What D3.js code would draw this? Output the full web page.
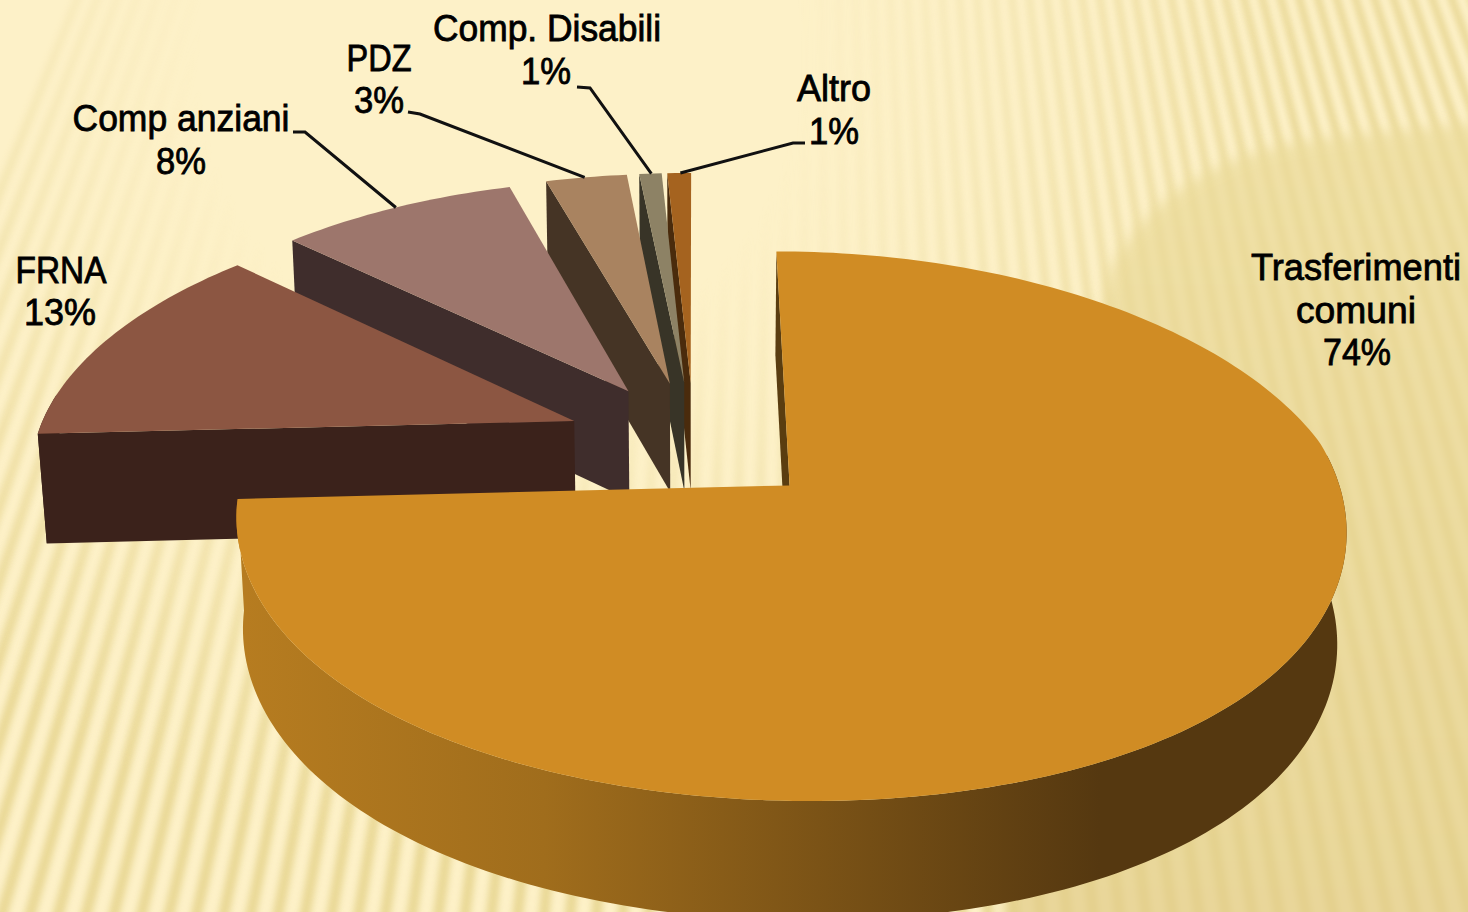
<!DOCTYPE html>
<html>
<head>
<meta charset="utf-8">
<script src="https://cdn.jsdelivr.net/npm/d3@7"></script>
<style>
html, body { margin: 0; padding: 0; background: #fdf1c8; overflow: hidden; }
svg { display: block; }
text { font-family: "Liberation Sans", Arial, sans-serif; font-size: 36px; fill: #000; stroke: #000; stroke-width: .8px; text-anchor: middle; }
</style>
</head>
<body>
<div id="chart"></div>
<script>
// values
const categories = ["Trasferimenti comuni", "FRNA", "Comp anziani", "PDZ", "Comp. Disabili", "Altro"];
const values = [74.2, 12.8, 8.45, 2.9, 0.8, 0.85];
const percentLabels = ["74%", "13%", "8%", "3%", "1%", "1%"];
const topColors = ["#d08c24", "#8c5642", "#9d766c", "#a98360", "#8d8265", "#a5631f"];
const wallColors = ["#5a3d10", "#3b221b", "#3f2d2c", "#453425", "#383427", "#4a2b0c"];

// label lines: [text, x, baseline, fitted width]
const labelLines = [
	[["Trasferimenti", 1356, 280, 210], ["comuni", 1356, 323, 120], ["74%", 1357, 365, 68]],
	[["FRNA", 61, 283, 91], ["13%", 60, 325, 72]],
	[["Comp anziani", 181, 131, 217], ["8%", 181, 174, 50]],
	[["PDZ", 379, 71, 65], ["3%", 379, 113, 50]],
	[["Comp. Disabili", 547, 41, 228], ["1%", 546, 84, 50]],
	[["Altro", 834, 101, 74], ["1%", 834, 144, 50]]
];
// leader line elbows, the last point is found on the slice
const leaderElbows = [null, null, [[293, 132], [305, 132]], [[408, 112], [420, 114]], [[577, 87], [590, 88]], [[805, 143], [793, 143]]];
const leaderPull = [0, 0, 0.5, 0.48, 0.54, 0.55];

const svgWidth = 1468;
const svgHeight = 912;

// pie in perspective
const cx = 694, cy = 442;
const radius = 539, flat = 256, depth = 110;
const kxBack = 0.165, kxFront = 0.11, kxCurve = 0.05, ky = 0.145, kz = 0.014, kDepth = 0.07;
const explode = 0.24;

function project(u, v, z) {
	// the front of the pie opens up a bit faster than the back
	const spread = v < 0 ? -kxBack * v : -kxFront * v - kxCurve * v * v;
	const wx = 1 + spread + kz * z;
	const wy = 1 - ky * v;
	const wd = 1 - kDepth * v;
	return [cx + radius * u / wx, cy + flat * v / wy + depth * z / wd];
}

const svg = d3.select("#chart").append("svg").attr("width", svgWidth).attr("height", svgHeight);
const defs = svg.append("defs");

// background
defs.append("filter").attr("id", "soft").append("feGaussianBlur").attr("stdDeviation", 3);
defs.append("filter").attr("id", "softer").append("feGaussianBlur").attr("stdDeviation", 7);

const fade = defs.append("radialGradient").attr("id", "fade").attr("gradientUnits", "userSpaceOnUse")
	.attr("cx", 500).attr("cy", 60).attr("r", 1000);
fade.append("stop").attr("offset", 0.3).attr("stop-color", "#000");
fade.append("stop").attr("offset", 0.8).attr("stop-color", "#fff");
defs.append("mask").attr("id", "fadeMask").append("rect")
	.attr("width", svgWidth).attr("height", svgHeight).attr("fill", "url(#fade)");

const shade = defs.append("linearGradient").attr("id", "shade").attr("x1", 0).attr("x2", 0).attr("y1", 0).attr("y2", 1);
shade.append("stop").attr("offset", 0).attr("stop-color", "#ecdc9c");
shade.append("stop").attr("offset", 1).attr("stop-color", "#e2ce8a");

svg.append("rect").attr("width", svgWidth).attr("height", svgHeight).attr("fill", "#fdf1c8");

const rayX = 800, rayY = -1800, rayStep = 0.0096;
svg.append("g").attr("mask", "url(#fadeMask)").append("g").attr("filter", "url(#soft)").attr("opacity", 0.85)
	.selectAll("path").data(d3.range(-40, 40)).join("path")
	.attr("fill", "#e6d48e")
	.attr("d", i => {
		const a = i * rayStep, b = a + rayStep * 0.42, far = 3200;
		return `M${rayX},${rayY}L${rayX + far * Math.sin(a)},${rayY + far * Math.cos(a)}L${rayX + far * Math.sin(b)},${rayY + far * Math.cos(b)}Z`;
	});

svg.append("path").attr("filter", "url(#softer)").attr("fill", "url(#shade)").attr("opacity", 0.75)
	.attr("d", "M1490,122L1330,138Q1170,155 1110,270L1000,930L1490,930Z");

// side of the big slice
const wallGrad = defs.append("linearGradient").attr("id", "wallGrad").attr("gradientUnits", "userSpaceOnUse")
	.attr("x1", 245).attr("x2", 1100).attr("y1", 0).attr("y2", 0);
wallGrad.append("stop").attr("offset", 0).attr("stop-color", "#b67c20");
wallGrad.append("stop").attr("offset", 0.35).attr("stop-color", "#a06d1c");
wallGrad.append("stop").attr("offset", 1).attr("stop-color", "#553810");

const pie = d3.pie().sort(null).startAngle(0).endAngle(2 * Math.PI);
const arcs = pie(values);
const line = d3.line();

function slicePoint(d, angle, r, z) {
	const mid = (d.startAngle + d.endAngle) / 2;
	const u = explode * Math.sin(mid) + r * Math.sin(angle);
	const v = -explode * Math.cos(mid) - r * Math.cos(angle);
	return project(u, v, z);
}

function angleSteps(a0, a1) {
	const n = Math.max(2, Math.ceil((a1 - a0) / 0.02));
	return d3.range(n + 1).map(i => a0 + (a1 - a0) * i / n);
}

// back to front, the big slice goes last
const order = d3.range(1, arcs.length).reverse().concat([0]);
const slices = svg.append("g");

order.forEach(i => {
	const d = arcs[i];
	const g = slices.append("g");
	const steps = angleSteps(d.startAngle, d.endAngle);

	// outer wall, only the part that looks towards us
	const front = steps.filter(a => Math.cos(a) < 0.12);
	if (front.length > 1) {
		const upper = front.map(a => slicePoint(d, a, 1, 0));
		const lower = front.map(a => slicePoint(d, a, 1, 1)).reverse();
		g.append("path").attr("d", line(upper.concat(lower)) + "Z")
			.attr("fill", i === 0 ? "url(#wallGrad)" : wallColors[i]);
	}

	// radial wall on the start side
	g.append("path").attr("fill", wallColors[i]).attr("d", line([
		slicePoint(d, d.startAngle, 0, 0), slicePoint(d, d.startAngle, 1, 0),
		slicePoint(d, d.startAngle, 1, 1), slicePoint(d, d.startAngle, 0, 1)
	]) + "Z");

	// top
	const top = [slicePoint(d, 0, 0, 0)].concat(steps.map(a => slicePoint(d, a, 1, 0)));
	g.append("path").attr("d", line(top) + "Z").attr("fill", topColors[i]);
});

// leader lines
const leaders = svg.append("g").attr("fill", "none").attr("stroke", "#111").attr("stroke-width", 3);
leaderElbows.forEach((elbow, i) => {
	if (!elbow) return;
	const d = arcs[i];
	const end = slicePoint(d, d.startAngle + (d.endAngle - d.startAngle) * leaderPull[i], 1, 0);
	leaders.append("path").attr("d", line(elbow.concat([end])));
});

// labels
labelLines.forEach((lines, i) => {
	const label = svg.append("g").attr("class", "label").attr("data-name", categories[i]);
	lines.forEach((l, j) => {
		label.append("text").attr("x", l[1]).attr("y", l[2])
			.attr("textLength", l[3]).attr("lengthAdjust", "spacingAndGlyphs")
			.text(j === lines.length - 1 ? percentLabels[i] : l[0]);
	});
});
</script>
</body>
</html>
